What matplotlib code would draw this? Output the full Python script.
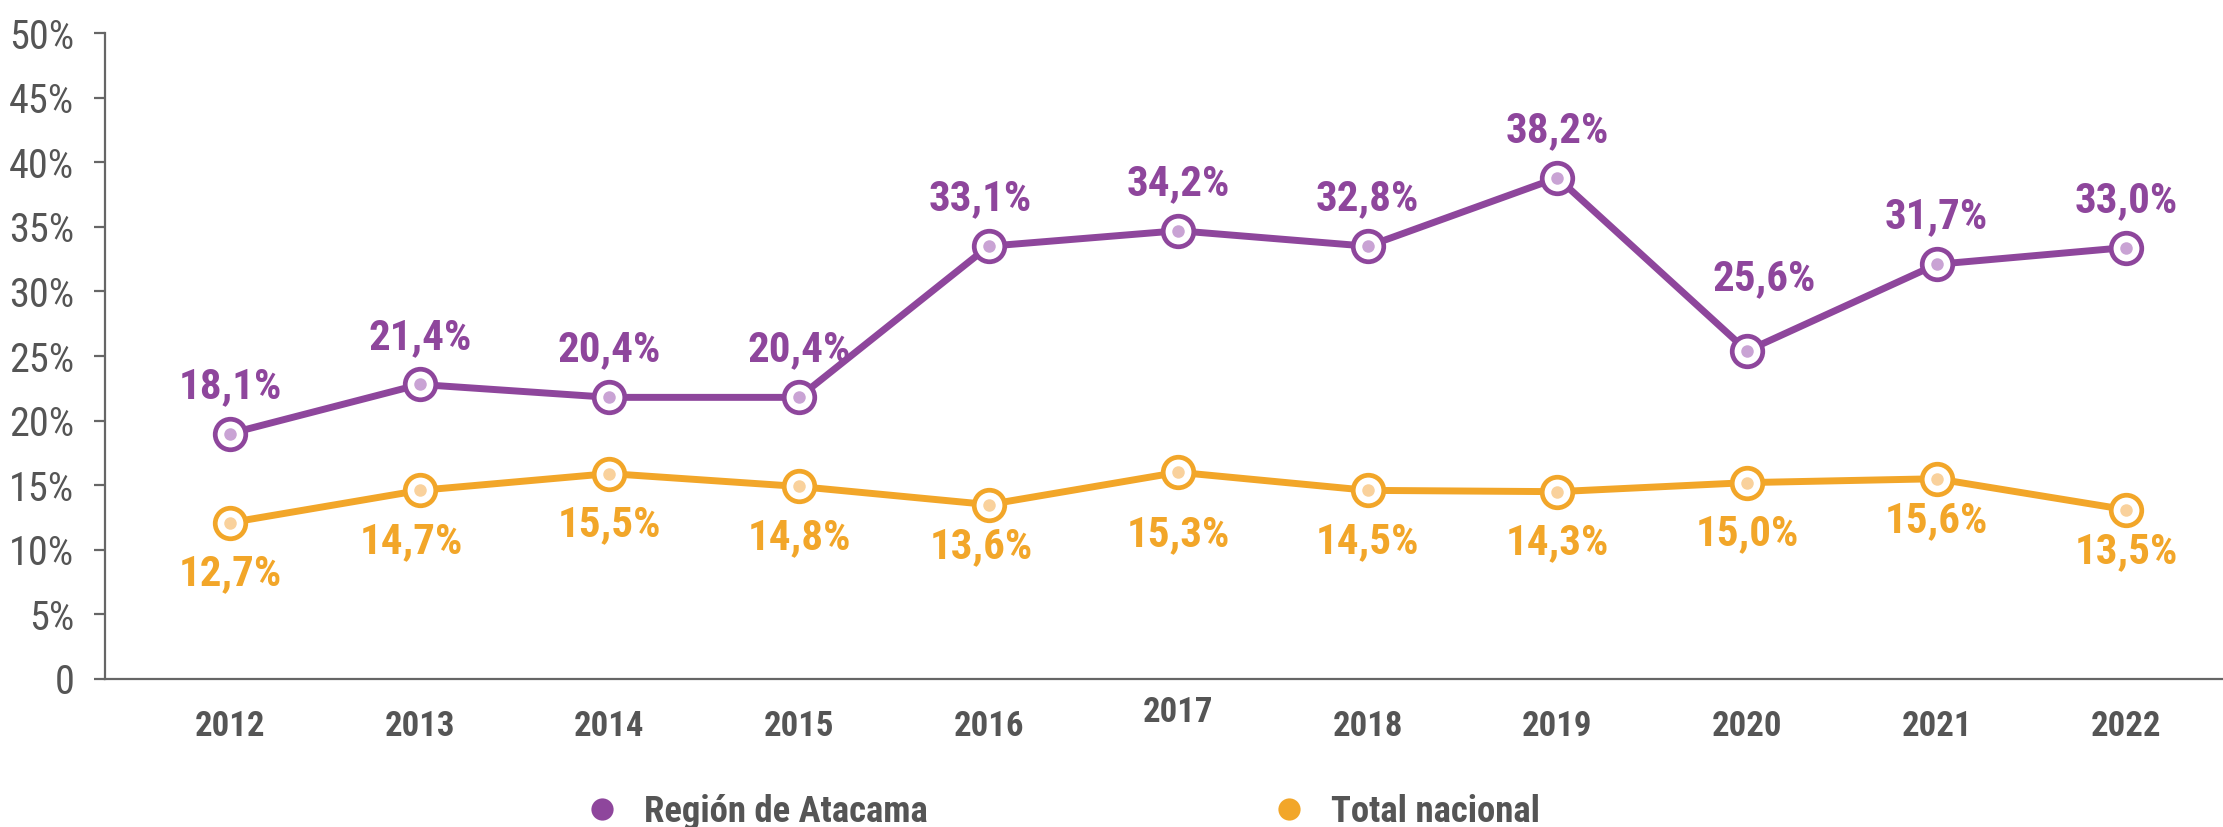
import matplotlib
matplotlib.use("Agg")
import matplotlib.pyplot as plt
from matplotlib import font_manager
from matplotlib.lines import Line2D
from matplotlib.transforms import ScaledTranslation

# data
years = [2012, 2013, 2014, 2015, 2016, 2017, 2018, 2019, 2020, 2021, 2022]
atacama = [19.0, 22.8, 21.8, 21.8, 33.5, 34.7, 33.5, 38.8, 25.4, 32.1, 33.4]
atacama_labels = ["18,1%", "21,4%", "20,4%", "20,4%", "33,1%", "34,2%",
                  "32,8%", "38,2%", "25,6%", "31,7%", "33,0%"]
nacional = [12.1, 14.6, 15.9, 14.9, 13.5, 16.0, 14.6, 14.5, 15.2, 15.5, 13.1]
nacional_labels = ["12,7%", "14,7%", "15,5%", "14,8%", "13,6%", "15,3%",
                   "14,5%", "14,3%", "15,0%", "15,6%", "13,5%"]
y_ticks = [0, 5, 10, 15, 20, 25, 30, 35, 40, 45, 50]
y_tick_labels = ["0", "5%", "10%", "15%", "20%", "25%", "30%", "35%", "40%", "45%", "50%"]
series_names = ["Región de Atacama", "Total nacional"]

PURPLE = "#8E469C"
PURPLE_LIGHT = "#C9A3D4"
ORANGE = "#F2A629"
ORANGE_LIGHT = "#F9D19C"
GREY = "#555555"

# pick a narrow font if one is installed
names = {f.name for f in font_manager.fontManager.ttflist}
narrow = next((n for n in ["Liberation Sans Narrow", "DejaVu Sans Condensed",
                           "Roboto Condensed", "Liberation Sans"] if n in names), "DejaVu Sans")
plt.rcParams["font.family"] = [narrow, "DejaVu Sans"]

fig = plt.figure(figsize=(22.23, 8.27), dpi=100)
ax = fig.add_axes([0.0472, 0.179, 0.9528, 0.781])

def draw(vals, color, light):
    ax.plot(years, vals, color=color, lw=5, marker="o", ms=22, mfc="white",
            mec=color, mew=3.4, solid_capstyle="round", zorder=3)
    ax.plot(years, vals, ls="none", marker="o", ms=9, mfc=light, mec="none", zorder=4)

draw(atacama, PURPLE, PURPLE_LIGHT)
draw(nacional, ORANGE, ORANGE_LIGHT)

# value labels (a couple are nudged like in the original)
for i, (x, y) in enumerate(zip(years, atacama)):
    dx, dy = 0, 34
    if x == 2016:
        dx = -6
    if x == 2020:
        dx, dy = 12, 52
    ax.annotate(atacama_labels[i], (x, y), xytext=(dx, dy), textcoords="offset points",
                ha="center", va="center", fontsize=31, fontweight="bold", color=PURPLE)

for i, (x, y) in enumerate(zip(years, nacional)):
    dx, dy = 0, -37
    if x == 2013:
        dx = -6
    if x == 2016:
        dx, dy = -5, -30
    if x == 2017:
        dy = -45
    if x in (2021, 2022):
        dy = -30
    ax.annotate(nacional_labels[i], (x, y), xytext=(dx, dy), textcoords="offset points",
                ha="center", va="center", fontsize=31, fontweight="bold", color=ORANGE)

ax.set_xlim(2011.34, 2022.51)
ax.set_ylim(0, 50)
ax.set_yticks(y_ticks)
ax.set_yticklabels(y_tick_labels)
ax.set_xticks(years)
ax.set_xticklabels([str(y) for y in years])

for s in ["top", "right"]:
    ax.spines[s].set_visible(False)
for s in ["left", "bottom"]:
    ax.spines[s].set_color("#666666")
    ax.spines[s].set_linewidth(1.6)

ax.tick_params(axis="y", length=8, width=1.6, color="#666666", pad=14,
               labelsize=29, labelcolor=GREY)
ax.tick_params(axis="x", length=0, pad=22, labelsize=25, labelcolor=GREY)
for lab in ax.get_xticklabels():
    lab.set_fontweight("bold")
    if lab.get_text() == "2017":
        lab.set_transform(lab.get_transform() + ScaledTranslation(0, 10 / 72, fig.dpi_scale_trans))

# legend, two separate entries spread out like the original
for name, color, xpos in [(series_names[0], PURPLE, 0.264), (series_names[1], ORANGE, 0.573)]:
    h = Line2D([], [], ls="none", marker="o", ms=16, mfc=color, mec="none")
    fig.legend([h], [name], loc="center left", bbox_to_anchor=(xpos, 0.018),
               frameon=False, borderpad=0, borderaxespad=0, handlelength=0.8,
               handletextpad=0.75, prop={"size": 26.5, "weight": "bold"}, labelcolor=GREY)

fig.savefig("out.png", dpi=100)
